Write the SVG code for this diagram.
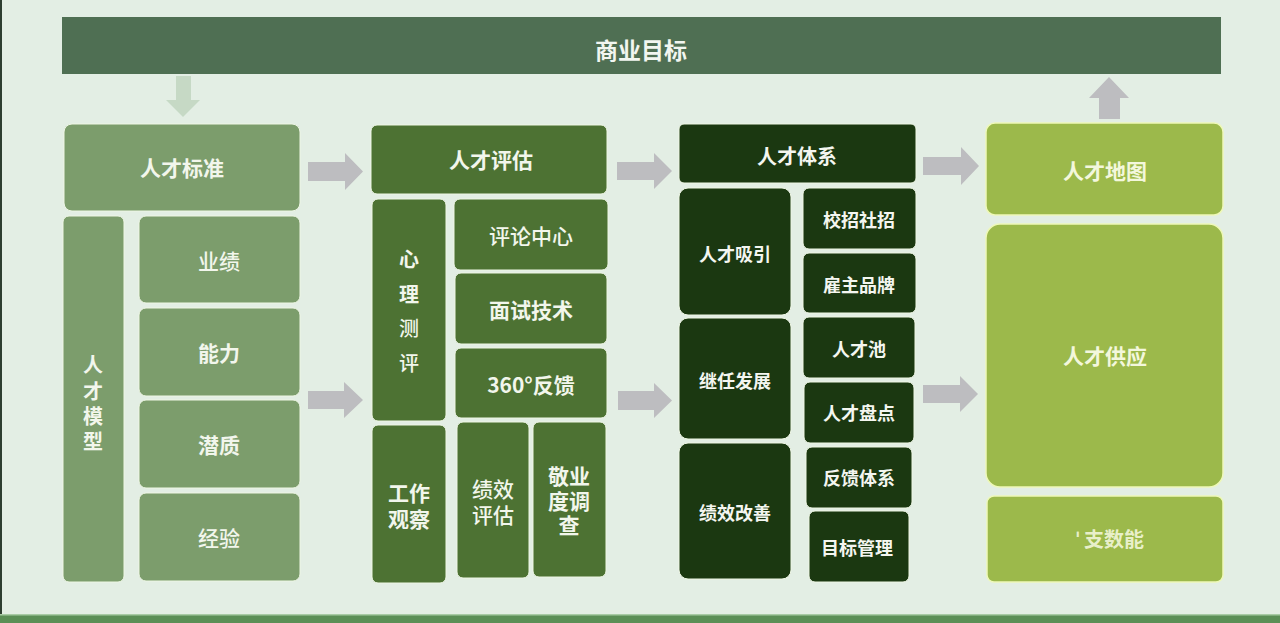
<svg xmlns="http://www.w3.org/2000/svg" width="1280" height="623" viewBox="0 0 1280 623">
<style>
text{font-family:"Noto Sans CJK SC","Noto Sans",sans-serif;font-weight:700;text-anchor:middle;dominant-baseline:central;}
.c1{fill:#7c9d6c;stroke:#eef6e4;stroke-width:1}
.c2{fill:#4d7233;stroke:#eef6e4;stroke-width:1}
.c3{fill:#1b3811;stroke:#eef6e4;stroke-width:1}
.c4{fill:#9cb94b;stroke:#eef8b8;stroke-width:1.5}
.t1{fill:#f2f6ec;font-size:21px}
.t2{fill:#f2f6ec;font-size:21px}
.t3{fill:#f4f6f0;font-size:18px}
.t4{fill:#f3f7dc;font-size:21px}
.arr{fill:#bdbdc0}
.light{font-weight:500}
</style>
<rect width="1280" height="623" fill="#e3eee4"/>
<rect x="0" y="0" width="2" height="623" fill="#2e3e30"/>
<rect x="0" y="614" width="1280" height="9" fill="#5b8f56"/>
<rect x="0" y="614" width="1280" height="1.5" fill="#a8cba4"/>

<g id="goal">
<rect x="62" y="17" width="1159" height="57" fill="#4f6f53"/>
<text x="641" y="49" fill="#f2f6f0" style="font-size:23px">商业目标</text>
</g>

<g id="connectors">
<path d="M176,76 H191 V100 H200 L183,117 L166,100 H176 Z" fill="#c6d9c5"/>
<path d="M1099,119 V98 H1089 L1109,77 L1129,98 H1120 V119 Z" class="arr"/>
<path d="M308,162 H345 V153 L363,171.5 L345,190 V181 H308 Z" class="arr"/>
<path d="M308,391 H344 V382 L363,400 L344,418 V409 H308 Z" class="arr"/>
<path d="M617,162 H654 V153 L672,171 L654,189 V180 H617 Z" class="arr"/>
<path d="M618,391 H654 V383 L672,400.5 L654,418 V410 H618 Z" class="arr"/>
<path d="M923,157 H961 V147 L979,166 L961,185 V175 H923 Z" class="arr"/>
<path d="M923,385 H960 V376 L978,394 L960,412 V403 H923 Z" class="arr"/>
</g>

<g id="standard">
<rect class="c1" x="64" y="124" width="236" height="87" rx="8"/>
<text class="t1" x="182" y="167">人才标准</text>
</g>
<g id="model">
<rect class="c1" x="63" y="216" width="61" height="366" rx="6"/>
<text class="t1" style="font-size:20px"><tspan x="93" y="363">人</tspan><tspan x="93" y="390">才</tspan><tspan x="93" y="415">模</tspan><tspan x="93" y="440">型</tspan></text>
</g>
<g id="perf"><rect class="c1" x="139" y="216" width="161" height="87" rx="7"/><text class="t1 light" x="219" y="260">业绩</text></g>
<g id="ability"><rect class="c1" x="139" y="308" width="161" height="88" rx="7"/><text class="t1" x="219" y="352">能力</text></g>
<g id="potential"><rect class="c1" x="139" y="400" width="161" height="88" rx="7"/><text class="t1" x="219" y="444">潜质</text></g>
<g id="exp"><rect class="c1" x="139" y="493" width="161" height="88" rx="7"/><text class="t1 light" x="219" y="537">经验</text></g>

<g id="assess">
<rect class="c2" x="371" y="125" width="236" height="69" rx="6"/>
<text class="t2" x="491" y="159">人才评估</text>
</g>
<g id="psych">
<rect class="c2" x="372" y="199" width="74" height="222" rx="6"/>
<text class="t2" style="font-size:20px"><tspan x="409" y="258">心</tspan><tspan x="409" y="293">理</tspan><tspan x="409" y="327" font-weight="500">测</tspan><tspan x="409" y="362" font-weight="500">评</tspan></text>
</g>
<g id="center"><rect class="c2" x="454" y="199" width="154" height="71" rx="6"/><text class="t2 light" x="531" y="235">评论中心</text></g>
<g id="interview"><rect class="c2" x="455" y="273" width="152" height="71" rx="6"/><text class="t2" x="531" y="309">面试技术</text></g>
<g id="f360"><rect class="c2" x="455" y="348" width="152" height="70" rx="6"/><text class="t2" x="531" y="384">360°反馈</text></g>
<g id="observe">
<rect class="c2" x="372" y="425" width="74" height="158" rx="6"/>
<text class="t2"><tspan x="409" y="492">工作</tspan><tspan x="409" y="518">观察</tspan></text>
</g>
<g id="perfeval">
<rect class="c2" x="457" y="422" width="72" height="156" rx="6"/>
<text class="t2 light"><tspan x="493" y="488">绩效</tspan><tspan x="493" y="514">评估</tspan></text>
</g>
<g id="engage">
<rect class="c2" x="533" y="422" width="73" height="155" rx="6"/>
<text class="t2"><tspan x="569" y="475">敬业</tspan><tspan x="569" y="500">度调</tspan><tspan x="569" y="524">查</tspan></text>
</g>

<g id="system">
<rect class="c3" x="679" y="124" width="237" height="59" rx="5"/>
<text class="t3" x="797" y="155" style="font-size:20px">人才体系</text>
</g>
<g id="attract"><rect class="c3" x="679" y="188" width="112" height="127" rx="9"/><text class="t3" x="735" y="253">人才吸引</text></g>
<g id="succession"><rect class="c3" x="679" y="318" width="112" height="121" rx="9"/><text class="t3" x="735" y="380">继任发展</text></g>
<g id="improve"><rect class="c3" x="679" y="443" width="112" height="136" rx="9"/><text class="t3" x="735" y="512">绩效改善</text></g>
<g id="campus"><rect class="c3" x="803" y="188" width="113" height="61" rx="6"/><text class="t3" x="859" y="219">校招社招</text></g>
<g id="brand"><rect class="c3" x="803" y="253" width="113" height="60" rx="6"/><text class="t3" x="859" y="284">雇主品牌</text></g>
<g id="pool"><rect class="c3" x="803" y="317" width="112" height="61" rx="6"/><text class="t3" x="859" y="348">人才池</text></g>
<g id="review"><rect class="c3" x="804" y="382" width="110" height="61" rx="6"/><text class="t3" x="859" y="412">人才盘点</text></g>
<g id="feedback"><rect class="c3" x="806" y="447" width="106" height="61" rx="6"/><text class="t3" x="859" y="477">反馈体系</text></g>
<g id="target"><rect class="c3" x="809" y="511" width="100" height="71" rx="6"/><text class="t3" x="857" y="547">目标管理</text></g>

<g id="map"><rect class="c4" x="986" y="123" width="237" height="92" rx="9"/><text class="t4" x="1105" y="170">人才地图</text></g>
<g id="supply"><rect class="c4" x="986" y="224" width="237" height="263" rx="14"/><text class="t4" x="1105" y="355">人才供应</text></g>
<g id="enable"><rect class="c4" x="987" y="496" width="236" height="86" rx="7"/><text class="t4" x="1110" y="538" style="font-size:20px" fill-opacity="0.9">ˈ 支数能</text></g>
</svg>
